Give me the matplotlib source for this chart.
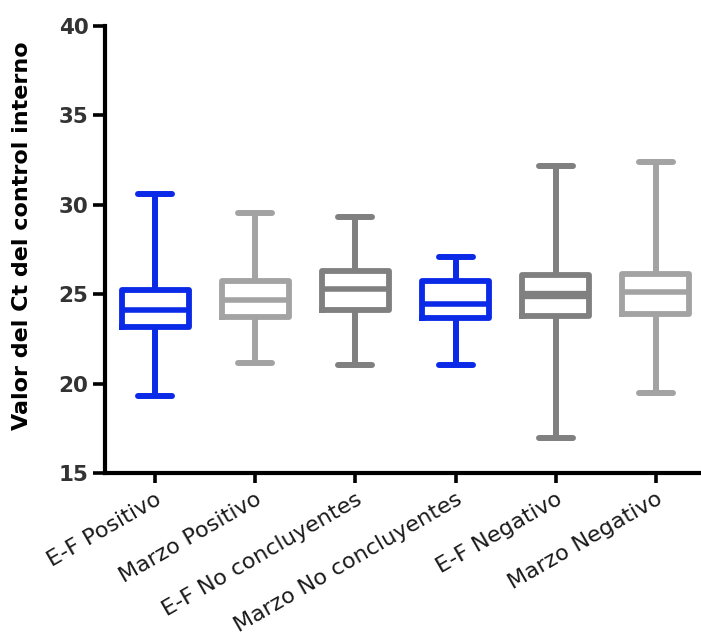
import matplotlib
matplotlib.use("Agg")
import matplotlib.pyplot as plt
from matplotlib.transforms import ScaledTranslation

plt.rcParams['font.family'] = ['DejaVu Sans']

categories = ["E-F Positivo", "Marzo Positivo", "E-F No concluyentes",
              "Marzo No concluyentes", "E-F Negativo", "Marzo Negativo"]
whisker_low = [19.3, 21.15, 21.05, 21.05, 16.95, 19.5]
q1 = [23.15, 23.7, 24.1, 23.65, 23.8, 23.9]
median = [24.1, 24.7, 25.3, 24.45, 24.95, 25.15]
q3 = [25.25, 25.75, 26.3, 25.75, 26.05, 26.15]
whisker_high = [30.6, 29.55, 29.3, 27.1, 32.15, 32.4]
colors = ["#0a2ae8", "#a3a3a3", "#808080", "#0a2ae8", "#808080", "#a3a3a3"]
median_widths = [4.0, 4.0, 4.0, 4.0, 6.0, 4.0]

fig = plt.figure(figsize=(7.01, 6.43), dpi=100)
ax = fig.add_axes([0.1498, 0.2644, 0.8502, 0.6952])

for i in range(len(categories)):
    stats = [dict(whislo=whisker_low[i], q1=q1[i], med=median[i], q3=q3[i],
                  whishi=whisker_high[i], label=categories[i])]
    c = colors[i]
    ax.bxp(stats, positions=[i + 1], widths=0.67, capwidths=0.34,
           showfliers=False, patch_artist=False,
           boxprops=dict(color=c, linewidth=4.2),
           whiskerprops=dict(color=c, linewidth=4.3, solid_capstyle='butt'),
           capprops=dict(color=c, linewidth=4.3, solid_capstyle='round'),
           medianprops=dict(color=c, linewidth=median_widths[i]),
           manage_ticks=False)

ax.set_xlim(0.5, 6.45)
ax.set_ylim(15, 40)
ax.set_yticks([15, 20, 25, 30, 35, 40])
ax.set_yticklabels(["15", "20", "25", "30", "35", "40"], fontsize=15.5,
                   fontweight='bold', color='#333333')
ax.set_xticks(range(1, len(categories) + 1))
ax.set_xticklabels(categories, rotation=30, ha='right', va='top',
                   rotation_mode='anchor', fontsize=16, color='#1a1a1a')
offset = ScaledTranslation(7 / 100, 0, fig.dpi_scale_trans)
for lbl in ax.get_xticklabels():
    lbl.set_transform(lbl.get_transform() + offset)

for s in ['top', 'right']:
    ax.spines[s].set_visible(False)
for s in ['left', 'bottom']:
    ax.spines[s].set_linewidth(3.0)
    ax.spines[s].set_color('black')
ax.tick_params(axis='y', direction='out', length=9, width=2.6, color='black', pad=3)
ax.tick_params(axis='x', direction='out', length=7.5, width=2.6, color='black', pad=4)

fig.text(22 / 701, 1 - 236 / 643, "Valor del Ct del control interno",
         rotation=90, ha='center', va='center', fontsize=16,
         fontweight='bold', color='black')

fig.savefig("out.png", dpi=100)
